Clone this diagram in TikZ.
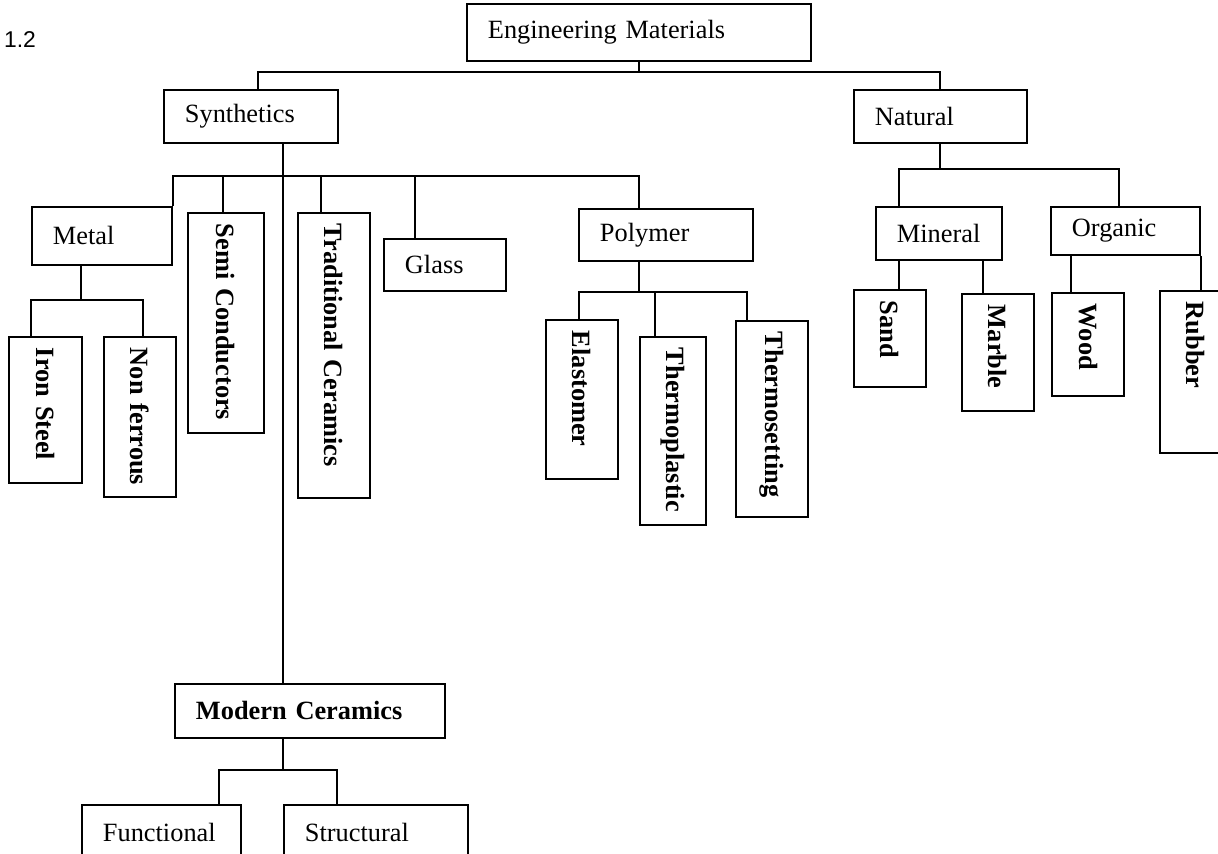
\documentclass[tikz,border=0pt]{standalone}
\usepackage{fontspec}
\setmainfont{Liberation Serif}
\newfontfamily\figfont{Liberation Sans}
\tikzset{
    box/.style={
        rectangle, draw=black, line width=1.1pt,
        anchor=north west, align=left,
        inner xsep=0.42cm, inner ysep=0pt,
        font=\fontsize{15}{18}\selectfont
    },
    vbox/.style={
        rectangle, draw=black, line width=1.1pt,
        rotate=-90, anchor=south west, align=left,
        inner xsep=0.22cm, inner ysep=0pt,
        font=\fontsize{15}{18}\selectfont\bfseries
    },
    link/.style={line width=1.1pt, color=black},
    figlabel/.style={font=\figfont\fontsize{13}{15}\selectfont, inner sep=0pt},
}

\begin{document}
\begin{tikzpicture}[x=0.02cm, y=-0.02cm]

    \useasboundingbox (0,0) rectangle (1218,854);
    \clip (0,0) rectangle (1218,854);
    \fill[white] (0,0) rectangle (1218,854);

    % Figure number
    \node[figlabel] (fig) at (20,40) {1.2};

    % Nodes (upper levels)
    \node[box, text width=6.04cm, minimum height=1.14cm] (em) at (466,3) {Engineering Materials};
    \node[box, text width=2.64cm, minimum height=1.06cm] (syn) at (163,89) {Synthetics};
    \node[box, text width=2.62cm, minimum height=1.06cm] (nat) at (853,89) {Natural};

    % Synthetics branch
    \node[box, text width=1.96cm, minimum height=1.16cm] (metal) at (31,206) {Metal};
    \node[vbox, text width=3.96cm, minimum height=1.52cm] (semi) at (187,212) {Semi Conductors};
    \node[vbox, text width=5.26cm, minimum height=1.44cm] (trad) at (297,212) {Traditional Ceramics};
    \node[box, text width=1.60cm, minimum height=1.04cm] (glass) at (383,238) {Glass};
    \node[box, text width=2.64cm, minimum height=1.04cm] (poly) at (578,208) {Polymer};

    \node[vbox, text width=2.48cm, minimum height=1.46cm] (iron) at (8,336) {Iron Steel};
    \node[vbox, text width=2.76cm, minimum height=1.44cm] (nonf) at (103,336) {Non ferrous};

    \node[vbox, text width=2.74cm, minimum height=1.44cm] (elas) at (545,319) {Elastomer};
    \node[vbox, text width=3.32cm, minimum height=1.32cm] (tplas) at (639,336) {Thermoplastic};
    \node[vbox, text width=3.48cm, minimum height=1.44cm] (tset) at (735,320) {Thermosetting};

    \node[box, text width=4.56cm, minimum height=1.08cm,
          font=\fontsize{15}{18}\selectfont\bfseries] (modc) at (174,683) {Modern Ceramics};
    \node[box, text width=2.34cm, minimum height=1.12cm] (func) at (81,804) {Functional};
    \node[box, text width=2.84cm, minimum height=1.12cm] (struc) at (283,804) {Structural};

    % Natural branch
    \node[box, text width=1.68cm, minimum height=1.06cm] (mineral) at (875,206) {Mineral};
    \node[box, text width=2.14cm, minimum height=0.96cm] (organic) at (1050,206) {Organic};

    \node[vbox, text width=1.50cm, minimum height=1.44cm] (sand) at (853,289) {Sand};
    \node[vbox, text width=1.90cm, minimum height=1.44cm] (marble) at (961,293) {Marble};
    \node[vbox, text width=1.62cm, minimum height=1.44cm] (wood) at (1051,292) {Wood};
    \node[vbox, text width=2.80cm, minimum height=1.44cm] (rubber) at (1159,290) {Rubber};

    % Bus points
    \coordinate (topbus) at (258,72);
    \coordinate (sbus) at (283,176);
    \coordinate (sbusR) at (639,176);
    \coordinate (semij) at (223,176);
    \coordinate (tradj) at (321,176);
    \coordinate (glassj) at (415,176);
    \coordinate (mj) at (81,300);
    \coordinate (mbusL) at (31,300);
    \coordinate (mbusR) at (143,300);
    \coordinate (pj) at (639,292);
    \coordinate (pbusL) at (579,292);
    \coordinate (pbusR) at (747,292);
    \coordinate (tpj) at (655,292);
    \coordinate (nbusL) at (899,169);
    \coordinate (nbusR) at (1119,169);
    \coordinate (marj) at (983,259);
    \coordinate (woodj) at (1071,254);
    \coordinate (cbusL) at (219,770);
    \coordinate (cbusR) at (337,770);

    % Connectors (top level)
    \draw[link] (em.south) -- (em.south |- topbus);
    \draw[link] (syn.north -| topbus) |- (nat.north |- topbus) -- (nat.north);

    % Connectors (synthetics)
    \draw[link] (syn.south -| sbus) -- (modc.north -| sbus);
    \draw[link] (metal.north east) |- (sbusR) -- (sbusR |- poly.north);
    \draw[link] (semij) -- (semij |- semi.west);
    \draw[link] (tradj) -- (tradj |- trad.west);
    \draw[link] (glassj) -- (glassj |- glass.north);

    \draw[link] (mj |- metal.south) -- (mj);
    \draw[link] (mbusL |- iron.west) |- (mbusR) -- (mbusR |- nonf.west);

    \draw[link] (pj |- poly.south) -- (pj);
    \draw[link] (pbusL |- elas.west) |- (pbusR) -- (pbusR |- tset.west);
    \draw[link] (tpj) -- (tpj |- tplas.west);

    \draw[link] (modc.south -| sbus) -- (sbus |- cbusL);
    \draw[link] (cbusL |- func.north) |- (cbusR) -- (cbusR |- struc.north);

    % Connectors (natural)
    \draw[link] (nat.south) -- (nat.south |- nbusL);
    \draw[link] (nbusL |- mineral.north) |- (nbusR) -- (nbusR |- organic.north);
    \draw[link] (nbusL |- mineral.south) -- (nbusL |- sand.west);
    \draw[link] (marj |- mineral.south) -- (marj |- marble.west);
    \draw[link] (woodj |- organic.south) -- (woodj |- wood.west);
    \draw[link] (organic.south east) -- (organic.south east |- rubber.west);

\end{tikzpicture}
\end{document}
